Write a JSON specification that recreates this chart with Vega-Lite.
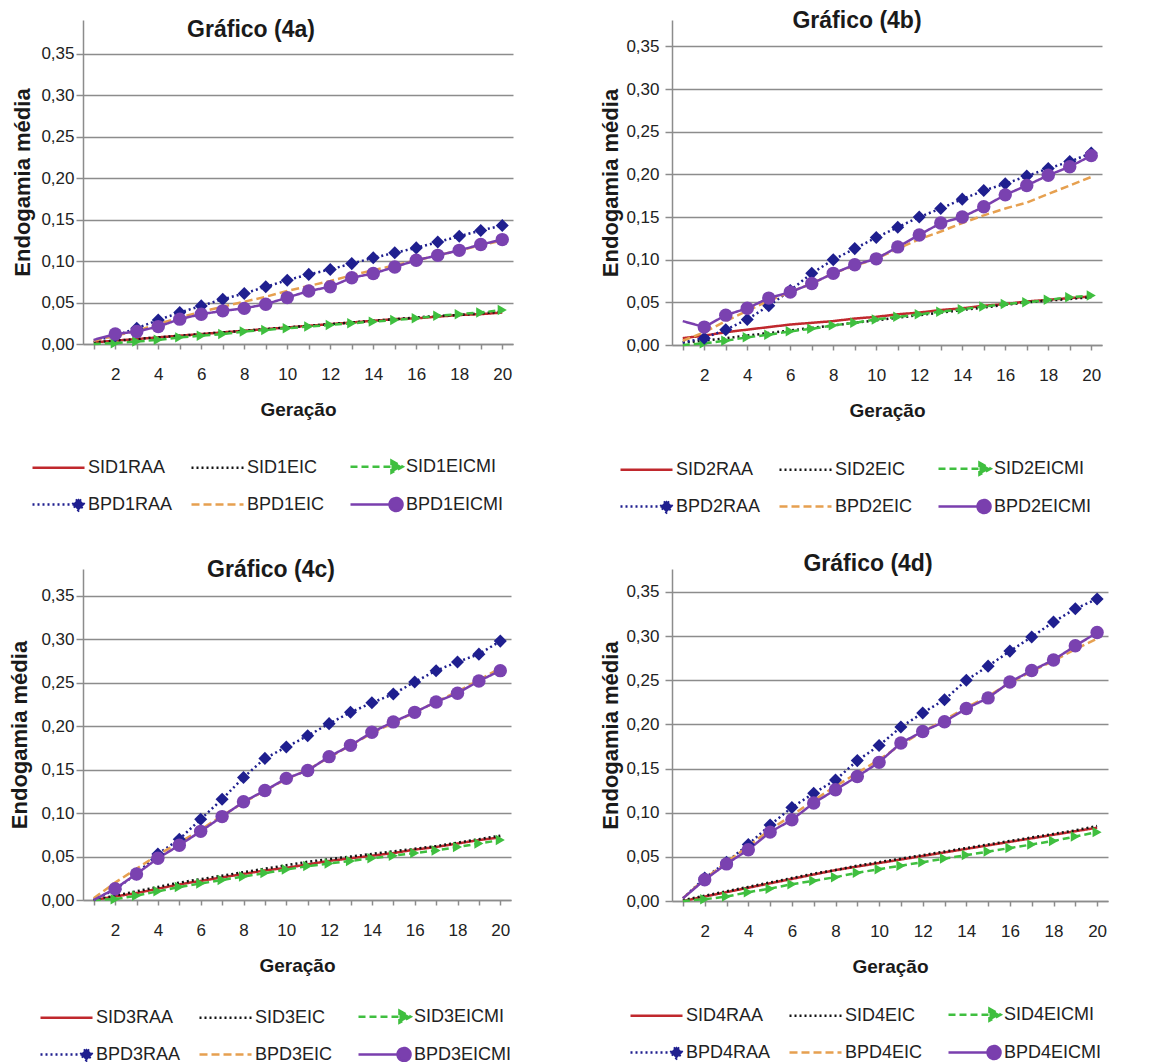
{
  "$schema": "https://vega.github.io/schema/vega-lite/v6.json",
  "background": "white",
  "padding": {"left": 8, "top": 10, "right": 5, "bottom": 2},
  "columns": 2,
  "bounds": "flush",
  "spacing": {"row": 224, "column": 159},
  "data": {"name": "inbreeding"},
  "datasets": {
    "inbreeding": [
      {"p":"4a","s":"SID1RAA","g":1,"v":0.002},{"p":"4a","s":"SID1RAA","g":2,"v":0.004},{"p":"4a","s":"SID1RAA","g":3,"v":0.006},{"p":"4a","s":"SID1RAA","g":4,"v":0.008},{"p":"4a","s":"SID1RAA","g":5,"v":0.010},{"p":"4a","s":"SID1RAA","g":6,"v":0.012},{"p":"4a","s":"SID1RAA","g":7,"v":0.014},{"p":"4a","s":"SID1RAA","g":8,"v":0.016},{"p":"4a","s":"SID1RAA","g":9,"v":0.018},{"p":"4a","s":"SID1RAA","g":10,"v":0.020},{"p":"4a","s":"SID1RAA","g":11,"v":0.022},{"p":"4a","s":"SID1RAA","g":12,"v":0.024},{"p":"4a","s":"SID1RAA","g":13,"v":0.026},{"p":"4a","s":"SID1RAA","g":14,"v":0.028},{"p":"4a","s":"SID1RAA","g":15,"v":0.030},{"p":"4a","s":"SID1RAA","g":16,"v":0.031},{"p":"4a","s":"SID1RAA","g":17,"v":0.033},{"p":"4a","s":"SID1RAA","g":18,"v":0.035},{"p":"4a","s":"SID1RAA","g":19,"v":0.036},{"p":"4a","s":"SID1RAA","g":20,"v":0.038},
      {"p":"4a","s":"SID1EIC","g":1,"v":0.002},{"p":"4a","s":"SID1EIC","g":2,"v":0.004},{"p":"4a","s":"SID1EIC","g":3,"v":0.006},{"p":"4a","s":"SID1EIC","g":4,"v":0.008},{"p":"4a","s":"SID1EIC","g":5,"v":0.010},{"p":"4a","s":"SID1EIC","g":6,"v":0.012},{"p":"4a","s":"SID1EIC","g":7,"v":0.014},{"p":"4a","s":"SID1EIC","g":8,"v":0.016},{"p":"4a","s":"SID1EIC","g":9,"v":0.018},{"p":"4a","s":"SID1EIC","g":10,"v":0.020},{"p":"4a","s":"SID1EIC","g":11,"v":0.022},{"p":"4a","s":"SID1EIC","g":12,"v":0.024},{"p":"4a","s":"SID1EIC","g":13,"v":0.026},{"p":"4a","s":"SID1EIC","g":14,"v":0.028},{"p":"4a","s":"SID1EIC","g":15,"v":0.030},{"p":"4a","s":"SID1EIC","g":16,"v":0.032},{"p":"4a","s":"SID1EIC","g":17,"v":0.034},{"p":"4a","s":"SID1EIC","g":18,"v":0.035},{"p":"4a","s":"SID1EIC","g":19,"v":0.037},{"p":"4a","s":"SID1EIC","g":20,"v":0.039},
      {"p":"4a","s":"SID1EICMI","g":1,"v":0.000},{"p":"4a","s":"SID1EICMI","g":2,"v":0.001},{"p":"4a","s":"SID1EICMI","g":3,"v":0.003},{"p":"4a","s":"SID1EICMI","g":4,"v":0.005},{"p":"4a","s":"SID1EICMI","g":5,"v":0.008},{"p":"4a","s":"SID1EICMI","g":6,"v":0.010},{"p":"4a","s":"SID1EICMI","g":7,"v":0.012},{"p":"4a","s":"SID1EICMI","g":8,"v":0.015},{"p":"4a","s":"SID1EICMI","g":9,"v":0.017},{"p":"4a","s":"SID1EICMI","g":10,"v":0.019},{"p":"4a","s":"SID1EICMI","g":11,"v":0.021},{"p":"4a","s":"SID1EICMI","g":12,"v":0.023},{"p":"4a","s":"SID1EICMI","g":13,"v":0.025},{"p":"4a","s":"SID1EICMI","g":14,"v":0.027},{"p":"4a","s":"SID1EICMI","g":15,"v":0.029},{"p":"4a","s":"SID1EICMI","g":16,"v":0.031},{"p":"4a","s":"SID1EICMI","g":17,"v":0.034},{"p":"4a","s":"SID1EICMI","g":18,"v":0.036},{"p":"4a","s":"SID1EICMI","g":19,"v":0.038},{"p":"4a","s":"SID1EICMI","g":20,"v":0.041},
      {"p":"4a","s":"BPD1RAA","g":1,"v":0.004},{"p":"4a","s":"BPD1RAA","g":2,"v":0.010},{"p":"4a","s":"BPD1RAA","g":3,"v":0.019},{"p":"4a","s":"BPD1RAA","g":4,"v":0.029},{"p":"4a","s":"BPD1RAA","g":5,"v":0.038},{"p":"4a","s":"BPD1RAA","g":6,"v":0.046},{"p":"4a","s":"BPD1RAA","g":7,"v":0.054},{"p":"4a","s":"BPD1RAA","g":8,"v":0.061},{"p":"4a","s":"BPD1RAA","g":9,"v":0.069},{"p":"4a","s":"BPD1RAA","g":10,"v":0.077},{"p":"4a","s":"BPD1RAA","g":11,"v":0.084},{"p":"4a","s":"BPD1RAA","g":12,"v":0.090},{"p":"4a","s":"BPD1RAA","g":13,"v":0.097},{"p":"4a","s":"BPD1RAA","g":14,"v":0.104},{"p":"4a","s":"BPD1RAA","g":15,"v":0.110},{"p":"4a","s":"BPD1RAA","g":16,"v":0.116},{"p":"4a","s":"BPD1RAA","g":17,"v":0.123},{"p":"4a","s":"BPD1RAA","g":18,"v":0.130},{"p":"4a","s":"BPD1RAA","g":19,"v":0.137},{"p":"4a","s":"BPD1RAA","g":20,"v":0.143},
      {"p":"4a","s":"BPD1EIC","g":1,"v":0.004},{"p":"4a","s":"BPD1EIC","g":2,"v":0.010},{"p":"4a","s":"BPD1EIC","g":3,"v":0.016},{"p":"4a","s":"BPD1EIC","g":4,"v":0.024},{"p":"4a","s":"BPD1EIC","g":5,"v":0.032},{"p":"4a","s":"BPD1EIC","g":6,"v":0.039},{"p":"4a","s":"BPD1EIC","g":7,"v":0.045},{"p":"4a","s":"BPD1EIC","g":8,"v":0.051},{"p":"4a","s":"BPD1EIC","g":9,"v":0.057},{"p":"4a","s":"BPD1EIC","g":10,"v":0.064},{"p":"4a","s":"BPD1EIC","g":11,"v":0.070},{"p":"4a","s":"BPD1EIC","g":12,"v":0.076},{"p":"4a","s":"BPD1EIC","g":13,"v":0.083},{"p":"4a","s":"BPD1EIC","g":14,"v":0.089},{"p":"4a","s":"BPD1EIC","g":15,"v":0.095},{"p":"4a","s":"BPD1EIC","g":16,"v":0.101},{"p":"4a","s":"BPD1EIC","g":17,"v":0.107},{"p":"4a","s":"BPD1EIC","g":18,"v":0.113},{"p":"4a","s":"BPD1EIC","g":19,"v":0.119},{"p":"4a","s":"BPD1EIC","g":20,"v":0.125},
      {"p":"4a","s":"BPD1EICMI","g":1,"v":0.005},{"p":"4a","s":"BPD1EICMI","g":2,"v":0.012},{"p":"4a","s":"BPD1EICMI","g":3,"v":0.015},{"p":"4a","s":"BPD1EICMI","g":4,"v":0.021},{"p":"4a","s":"BPD1EICMI","g":5,"v":0.030},{"p":"4a","s":"BPD1EICMI","g":6,"v":0.036},{"p":"4a","s":"BPD1EICMI","g":7,"v":0.040},{"p":"4a","s":"BPD1EICMI","g":8,"v":0.043},{"p":"4a","s":"BPD1EICMI","g":9,"v":0.048},{"p":"4a","s":"BPD1EICMI","g":10,"v":0.056},{"p":"4a","s":"BPD1EICMI","g":11,"v":0.064},{"p":"4a","s":"BPD1EICMI","g":12,"v":0.069},{"p":"4a","s":"BPD1EICMI","g":13,"v":0.080},{"p":"4a","s":"BPD1EICMI","g":14,"v":0.085},{"p":"4a","s":"BPD1EICMI","g":15,"v":0.093},{"p":"4a","s":"BPD1EICMI","g":16,"v":0.101},{"p":"4a","s":"BPD1EICMI","g":17,"v":0.107},{"p":"4a","s":"BPD1EICMI","g":18,"v":0.113},{"p":"4a","s":"BPD1EICMI","g":19,"v":0.120},{"p":"4a","s":"BPD1EICMI","g":20,"v":0.126},

      {"p":"4b","s":"SID2RAA","g":1,"v":0.008},{"p":"4b","s":"SID2RAA","g":2,"v":0.011},{"p":"4b","s":"SID2RAA","g":3,"v":0.015},{"p":"4b","s":"SID2RAA","g":4,"v":0.018},{"p":"4b","s":"SID2RAA","g":5,"v":0.021},{"p":"4b","s":"SID2RAA","g":6,"v":0.024},{"p":"4b","s":"SID2RAA","g":7,"v":0.026},{"p":"4b","s":"SID2RAA","g":8,"v":0.028},{"p":"4b","s":"SID2RAA","g":9,"v":0.031},{"p":"4b","s":"SID2RAA","g":10,"v":0.033},{"p":"4b","s":"SID2RAA","g":11,"v":0.036},{"p":"4b","s":"SID2RAA","g":12,"v":0.038},{"p":"4b","s":"SID2RAA","g":13,"v":0.041},{"p":"4b","s":"SID2RAA","g":14,"v":0.043},{"p":"4b","s":"SID2RAA","g":15,"v":0.046},{"p":"4b","s":"SID2RAA","g":16,"v":0.048},{"p":"4b","s":"SID2RAA","g":17,"v":0.051},{"p":"4b","s":"SID2RAA","g":18,"v":0.053},{"p":"4b","s":"SID2RAA","g":19,"v":0.055},{"p":"4b","s":"SID2RAA","g":20,"v":0.057},
      {"p":"4b","s":"SID2EIC","g":1,"v":0.003},{"p":"4b","s":"SID2EIC","g":2,"v":0.005},{"p":"4b","s":"SID2EIC","g":3,"v":0.008},{"p":"4b","s":"SID2EIC","g":4,"v":0.011},{"p":"4b","s":"SID2EIC","g":5,"v":0.014},{"p":"4b","s":"SID2EIC","g":6,"v":0.017},{"p":"4b","s":"SID2EIC","g":7,"v":0.020},{"p":"4b","s":"SID2EIC","g":8,"v":0.023},{"p":"4b","s":"SID2EIC","g":9,"v":0.026},{"p":"4b","s":"SID2EIC","g":10,"v":0.029},{"p":"4b","s":"SID2EIC","g":11,"v":0.032},{"p":"4b","s":"SID2EIC","g":12,"v":0.035},{"p":"4b","s":"SID2EIC","g":13,"v":0.038},{"p":"4b","s":"SID2EIC","g":14,"v":0.041},{"p":"4b","s":"SID2EIC","g":15,"v":0.044},{"p":"4b","s":"SID2EIC","g":16,"v":0.047},{"p":"4b","s":"SID2EIC","g":17,"v":0.050},{"p":"4b","s":"SID2EIC","g":18,"v":0.052},{"p":"4b","s":"SID2EIC","g":19,"v":0.054},{"p":"4b","s":"SID2EIC","g":20,"v":0.056},
      {"p":"4b","s":"SID2EICMI","g":1,"v":0.000},{"p":"4b","s":"SID2EICMI","g":2,"v":0.002},{"p":"4b","s":"SID2EICMI","g":3,"v":0.005},{"p":"4b","s":"SID2EICMI","g":4,"v":0.009},{"p":"4b","s":"SID2EICMI","g":5,"v":0.012},{"p":"4b","s":"SID2EICMI","g":6,"v":0.016},{"p":"4b","s":"SID2EICMI","g":7,"v":0.019},{"p":"4b","s":"SID2EICMI","g":8,"v":0.023},{"p":"4b","s":"SID2EICMI","g":9,"v":0.026},{"p":"4b","s":"SID2EICMI","g":10,"v":0.030},{"p":"4b","s":"SID2EICMI","g":11,"v":0.033},{"p":"4b","s":"SID2EICMI","g":12,"v":0.036},{"p":"4b","s":"SID2EICMI","g":13,"v":0.039},{"p":"4b","s":"SID2EICMI","g":14,"v":0.042},{"p":"4b","s":"SID2EICMI","g":15,"v":0.045},{"p":"4b","s":"SID2EICMI","g":16,"v":0.048},{"p":"4b","s":"SID2EICMI","g":17,"v":0.050},{"p":"4b","s":"SID2EICMI","g":18,"v":0.053},{"p":"4b","s":"SID2EICMI","g":19,"v":0.056},{"p":"4b","s":"SID2EICMI","g":20,"v":0.058},
      {"p":"4b","s":"BPD2RAA","g":1,"v":0.003},{"p":"4b","s":"BPD2RAA","g":2,"v":0.008},{"p":"4b","s":"BPD2RAA","g":3,"v":0.018},{"p":"4b","s":"BPD2RAA","g":4,"v":0.030},{"p":"4b","s":"BPD2RAA","g":5,"v":0.046},{"p":"4b","s":"BPD2RAA","g":6,"v":0.064},{"p":"4b","s":"BPD2RAA","g":7,"v":0.084},{"p":"4b","s":"BPD2RAA","g":8,"v":0.100},{"p":"4b","s":"BPD2RAA","g":9,"v":0.113},{"p":"4b","s":"BPD2RAA","g":10,"v":0.126},{"p":"4b","s":"BPD2RAA","g":11,"v":0.138},{"p":"4b","s":"BPD2RAA","g":12,"v":0.150},{"p":"4b","s":"BPD2RAA","g":13,"v":0.160},{"p":"4b","s":"BPD2RAA","g":14,"v":0.171},{"p":"4b","s":"BPD2RAA","g":15,"v":0.181},{"p":"4b","s":"BPD2RAA","g":16,"v":0.189},{"p":"4b","s":"BPD2RAA","g":17,"v":0.198},{"p":"4b","s":"BPD2RAA","g":18,"v":0.207},{"p":"4b","s":"BPD2RAA","g":19,"v":0.215},{"p":"4b","s":"BPD2RAA","g":20,"v":0.225},
      {"p":"4b","s":"BPD2EIC","g":1,"v":0.005},{"p":"4b","s":"BPD2EIC","g":2,"v":0.015},{"p":"4b","s":"BPD2EIC","g":3,"v":0.028},{"p":"4b","s":"BPD2EIC","g":4,"v":0.040},{"p":"4b","s":"BPD2EIC","g":5,"v":0.052},{"p":"4b","s":"BPD2EIC","g":6,"v":0.062},{"p":"4b","s":"BPD2EIC","g":7,"v":0.072},{"p":"4b","s":"BPD2EIC","g":8,"v":0.084},{"p":"4b","s":"BPD2EIC","g":9,"v":0.093},{"p":"4b","s":"BPD2EIC","g":10,"v":0.101},{"p":"4b","s":"BPD2EIC","g":11,"v":0.113},{"p":"4b","s":"BPD2EIC","g":12,"v":0.124},{"p":"4b","s":"BPD2EIC","g":13,"v":0.133},{"p":"4b","s":"BPD2EIC","g":14,"v":0.143},{"p":"4b","s":"BPD2EIC","g":15,"v":0.152},{"p":"4b","s":"BPD2EIC","g":16,"v":0.160},{"p":"4b","s":"BPD2EIC","g":17,"v":0.167},{"p":"4b","s":"BPD2EIC","g":18,"v":0.177},{"p":"4b","s":"BPD2EIC","g":19,"v":0.187},{"p":"4b","s":"BPD2EIC","g":20,"v":0.197},
      {"p":"4b","s":"BPD2EICMI","g":1,"v":0.028},{"p":"4b","s":"BPD2EICMI","g":2,"v":0.021},{"p":"4b","s":"BPD2EICMI","g":3,"v":0.035},{"p":"4b","s":"BPD2EICMI","g":4,"v":0.043},{"p":"4b","s":"BPD2EICMI","g":5,"v":0.055},{"p":"4b","s":"BPD2EICMI","g":6,"v":0.062},{"p":"4b","s":"BPD2EICMI","g":7,"v":0.072},{"p":"4b","s":"BPD2EICMI","g":8,"v":0.084},{"p":"4b","s":"BPD2EICMI","g":9,"v":0.094},{"p":"4b","s":"BPD2EICMI","g":10,"v":0.101},{"p":"4b","s":"BPD2EICMI","g":11,"v":0.115},{"p":"4b","s":"BPD2EICMI","g":12,"v":0.129},{"p":"4b","s":"BPD2EICMI","g":13,"v":0.143},{"p":"4b","s":"BPD2EICMI","g":14,"v":0.150},{"p":"4b","s":"BPD2EICMI","g":15,"v":0.162},{"p":"4b","s":"BPD2EICMI","g":16,"v":0.176},{"p":"4b","s":"BPD2EICMI","g":17,"v":0.187},{"p":"4b","s":"BPD2EICMI","g":18,"v":0.199},{"p":"4b","s":"BPD2EICMI","g":19,"v":0.209},{"p":"4b","s":"BPD2EICMI","g":20,"v":0.222},

      {"p":"4c","s":"SID3RAA","g":1,"v":0.000},{"p":"4c","s":"SID3RAA","g":2,"v":0.004},{"p":"4c","s":"SID3RAA","g":3,"v":0.008},{"p":"4c","s":"SID3RAA","g":4,"v":0.013},{"p":"4c","s":"SID3RAA","g":5,"v":0.018},{"p":"4c","s":"SID3RAA","g":6,"v":0.022},{"p":"4c","s":"SID3RAA","g":7,"v":0.026},{"p":"4c","s":"SID3RAA","g":8,"v":0.030},{"p":"4c","s":"SID3RAA","g":9,"v":0.034},{"p":"4c","s":"SID3RAA","g":10,"v":0.037},{"p":"4c","s":"SID3RAA","g":11,"v":0.041},{"p":"4c","s":"SID3RAA","g":12,"v":0.045},{"p":"4c","s":"SID3RAA","g":13,"v":0.048},{"p":"4c","s":"SID3RAA","g":14,"v":0.051},{"p":"4c","s":"SID3RAA","g":15,"v":0.054},{"p":"4c","s":"SID3RAA","g":16,"v":0.058},{"p":"4c","s":"SID3RAA","g":17,"v":0.061},{"p":"4c","s":"SID3RAA","g":18,"v":0.065},{"p":"4c","s":"SID3RAA","g":19,"v":0.069},{"p":"4c","s":"SID3RAA","g":20,"v":0.072},
      {"p":"4c","s":"SID3EIC","g":1,"v":0.000},{"p":"4c","s":"SID3EIC","g":2,"v":0.005},{"p":"4c","s":"SID3EIC","g":3,"v":0.010},{"p":"4c","s":"SID3EIC","g":4,"v":0.015},{"p":"4c","s":"SID3EIC","g":5,"v":0.020},{"p":"4c","s":"SID3EIC","g":6,"v":0.024},{"p":"4c","s":"SID3EIC","g":7,"v":0.028},{"p":"4c","s":"SID3EIC","g":8,"v":0.032},{"p":"4c","s":"SID3EIC","g":9,"v":0.036},{"p":"4c","s":"SID3EIC","g":10,"v":0.040},{"p":"4c","s":"SID3EIC","g":11,"v":0.044},{"p":"4c","s":"SID3EIC","g":12,"v":0.047},{"p":"4c","s":"SID3EIC","g":13,"v":0.050},{"p":"4c","s":"SID3EIC","g":14,"v":0.053},{"p":"4c","s":"SID3EIC","g":15,"v":0.056},{"p":"4c","s":"SID3EIC","g":16,"v":0.059},{"p":"4c","s":"SID3EIC","g":17,"v":0.062},{"p":"4c","s":"SID3EIC","g":18,"v":0.066},{"p":"4c","s":"SID3EIC","g":19,"v":0.070},{"p":"4c","s":"SID3EIC","g":20,"v":0.074},
      {"p":"4c","s":"SID3EICMI","g":1,"v":0.000},{"p":"4c","s":"SID3EICMI","g":2,"v":0.001},{"p":"4c","s":"SID3EICMI","g":3,"v":0.005},{"p":"4c","s":"SID3EICMI","g":4,"v":0.010},{"p":"4c","s":"SID3EICMI","g":5,"v":0.015},{"p":"4c","s":"SID3EICMI","g":6,"v":0.019},{"p":"4c","s":"SID3EICMI","g":7,"v":0.023},{"p":"4c","s":"SID3EICMI","g":8,"v":0.027},{"p":"4c","s":"SID3EICMI","g":9,"v":0.031},{"p":"4c","s":"SID3EICMI","g":10,"v":0.035},{"p":"4c","s":"SID3EICMI","g":11,"v":0.039},{"p":"4c","s":"SID3EICMI","g":12,"v":0.042},{"p":"4c","s":"SID3EICMI","g":13,"v":0.045},{"p":"4c","s":"SID3EICMI","g":14,"v":0.048},{"p":"4c","s":"SID3EICMI","g":15,"v":0.051},{"p":"4c","s":"SID3EICMI","g":16,"v":0.054},{"p":"4c","s":"SID3EICMI","g":17,"v":0.057},{"p":"4c","s":"SID3EICMI","g":18,"v":0.061},{"p":"4c","s":"SID3EICMI","g":19,"v":0.065},{"p":"4c","s":"SID3EICMI","g":20,"v":0.069},
      {"p":"4c","s":"BPD3RAA","g":1,"v":0.000},{"p":"4c","s":"BPD3RAA","g":2,"v":0.012},{"p":"4c","s":"BPD3RAA","g":3,"v":0.030},{"p":"4c","s":"BPD3RAA","g":4,"v":0.053},{"p":"4c","s":"BPD3RAA","g":5,"v":0.070},{"p":"4c","s":"BPD3RAA","g":6,"v":0.093},{"p":"4c","s":"BPD3RAA","g":7,"v":0.116},{"p":"4c","s":"BPD3RAA","g":8,"v":0.141},{"p":"4c","s":"BPD3RAA","g":9,"v":0.163},{"p":"4c","s":"BPD3RAA","g":10,"v":0.176},{"p":"4c","s":"BPD3RAA","g":11,"v":0.189},{"p":"4c","s":"BPD3RAA","g":12,"v":0.203},{"p":"4c","s":"BPD3RAA","g":13,"v":0.216},{"p":"4c","s":"BPD3RAA","g":14,"v":0.227},{"p":"4c","s":"BPD3RAA","g":15,"v":0.237},{"p":"4c","s":"BPD3RAA","g":16,"v":0.251},{"p":"4c","s":"BPD3RAA","g":17,"v":0.264},{"p":"4c","s":"BPD3RAA","g":18,"v":0.274},{"p":"4c","s":"BPD3RAA","g":19,"v":0.283},{"p":"4c","s":"BPD3RAA","g":20,"v":0.298},
      {"p":"4c","s":"BPD3EIC","g":1,"v":0.002},{"p":"4c","s":"BPD3EIC","g":2,"v":0.020},{"p":"4c","s":"BPD3EIC","g":3,"v":0.036},{"p":"4c","s":"BPD3EIC","g":4,"v":0.052},{"p":"4c","s":"BPD3EIC","g":5,"v":0.066},{"p":"4c","s":"BPD3EIC","g":6,"v":0.081},{"p":"4c","s":"BPD3EIC","g":7,"v":0.097},{"p":"4c","s":"BPD3EIC","g":8,"v":0.112},{"p":"4c","s":"BPD3EIC","g":9,"v":0.126},{"p":"4c","s":"BPD3EIC","g":10,"v":0.139},{"p":"4c","s":"BPD3EIC","g":11,"v":0.150},{"p":"4c","s":"BPD3EIC","g":12,"v":0.164},{"p":"4c","s":"BPD3EIC","g":13,"v":0.178},{"p":"4c","s":"BPD3EIC","g":14,"v":0.192},{"p":"4c","s":"BPD3EIC","g":15,"v":0.204},{"p":"4c","s":"BPD3EIC","g":16,"v":0.216},{"p":"4c","s":"BPD3EIC","g":17,"v":0.228},{"p":"4c","s":"BPD3EIC","g":18,"v":0.240},{"p":"4c","s":"BPD3EIC","g":19,"v":0.253},{"p":"4c","s":"BPD3EIC","g":20,"v":0.267},
      {"p":"4c","s":"BPD3EICMI","g":1,"v":0.000},{"p":"4c","s":"BPD3EICMI","g":2,"v":0.013},{"p":"4c","s":"BPD3EICMI","g":3,"v":0.030},{"p":"4c","s":"BPD3EICMI","g":4,"v":0.048},{"p":"4c","s":"BPD3EICMI","g":5,"v":0.063},{"p":"4c","s":"BPD3EICMI","g":6,"v":0.079},{"p":"4c","s":"BPD3EICMI","g":7,"v":0.096},{"p":"4c","s":"BPD3EICMI","g":8,"v":0.113},{"p":"4c","s":"BPD3EICMI","g":9,"v":0.126},{"p":"4c","s":"BPD3EICMI","g":10,"v":0.140},{"p":"4c","s":"BPD3EICMI","g":11,"v":0.149},{"p":"4c","s":"BPD3EICMI","g":12,"v":0.165},{"p":"4c","s":"BPD3EICMI","g":13,"v":0.178},{"p":"4c","s":"BPD3EICMI","g":14,"v":0.193},{"p":"4c","s":"BPD3EICMI","g":15,"v":0.205},{"p":"4c","s":"BPD3EICMI","g":16,"v":0.216},{"p":"4c","s":"BPD3EICMI","g":17,"v":0.228},{"p":"4c","s":"BPD3EICMI","g":18,"v":0.238},{"p":"4c","s":"BPD3EICMI","g":19,"v":0.252},{"p":"4c","s":"BPD3EICMI","g":20,"v":0.264},

      {"p":"4d","s":"SID4RAA","g":1,"v":0.000},{"p":"4d","s":"SID4RAA","g":2,"v":0.005},{"p":"4d","s":"SID4RAA","g":3,"v":0.010},{"p":"4d","s":"SID4RAA","g":4,"v":0.015},{"p":"4d","s":"SID4RAA","g":5,"v":0.020},{"p":"4d","s":"SID4RAA","g":6,"v":0.025},{"p":"4d","s":"SID4RAA","g":7,"v":0.030},{"p":"4d","s":"SID4RAA","g":8,"v":0.035},{"p":"4d","s":"SID4RAA","g":9,"v":0.039},{"p":"4d","s":"SID4RAA","g":10,"v":0.043},{"p":"4d","s":"SID4RAA","g":11,"v":0.047},{"p":"4d","s":"SID4RAA","g":12,"v":0.051},{"p":"4d","s":"SID4RAA","g":13,"v":0.055},{"p":"4d","s":"SID4RAA","g":14,"v":0.059},{"p":"4d","s":"SID4RAA","g":15,"v":0.063},{"p":"4d","s":"SID4RAA","g":16,"v":0.067},{"p":"4d","s":"SID4RAA","g":17,"v":0.071},{"p":"4d","s":"SID4RAA","g":18,"v":0.075},{"p":"4d","s":"SID4RAA","g":19,"v":0.079},{"p":"4d","s":"SID4RAA","g":20,"v":0.083},
      {"p":"4d","s":"SID4EIC","g":1,"v":0.001},{"p":"4d","s":"SID4EIC","g":2,"v":0.006},{"p":"4d","s":"SID4EIC","g":3,"v":0.011},{"p":"4d","s":"SID4EIC","g":4,"v":0.016},{"p":"4d","s":"SID4EIC","g":5,"v":0.021},{"p":"4d","s":"SID4EIC","g":6,"v":0.026},{"p":"4d","s":"SID4EIC","g":7,"v":0.031},{"p":"4d","s":"SID4EIC","g":8,"v":0.035},{"p":"4d","s":"SID4EIC","g":9,"v":0.040},{"p":"4d","s":"SID4EIC","g":10,"v":0.044},{"p":"4d","s":"SID4EIC","g":11,"v":0.048},{"p":"4d","s":"SID4EIC","g":12,"v":0.052},{"p":"4d","s":"SID4EIC","g":13,"v":0.056},{"p":"4d","s":"SID4EIC","g":14,"v":0.060},{"p":"4d","s":"SID4EIC","g":15,"v":0.064},{"p":"4d","s":"SID4EIC","g":16,"v":0.068},{"p":"4d","s":"SID4EIC","g":17,"v":0.072},{"p":"4d","s":"SID4EIC","g":18,"v":0.076},{"p":"4d","s":"SID4EIC","g":19,"v":0.080},{"p":"4d","s":"SID4EIC","g":20,"v":0.085},
      {"p":"4d","s":"SID4EICMI","g":1,"v":0.000},{"p":"4d","s":"SID4EICMI","g":2,"v":0.002},{"p":"4d","s":"SID4EICMI","g":3,"v":0.005},{"p":"4d","s":"SID4EICMI","g":4,"v":0.010},{"p":"4d","s":"SID4EICMI","g":5,"v":0.014},{"p":"4d","s":"SID4EICMI","g":6,"v":0.019},{"p":"4d","s":"SID4EICMI","g":7,"v":0.023},{"p":"4d","s":"SID4EICMI","g":8,"v":0.027},{"p":"4d","s":"SID4EICMI","g":9,"v":0.032},{"p":"4d","s":"SID4EICMI","g":10,"v":0.036},{"p":"4d","s":"SID4EICMI","g":11,"v":0.040},{"p":"4d","s":"SID4EICMI","g":12,"v":0.044},{"p":"4d","s":"SID4EICMI","g":13,"v":0.048},{"p":"4d","s":"SID4EICMI","g":14,"v":0.052},{"p":"4d","s":"SID4EICMI","g":15,"v":0.056},{"p":"4d","s":"SID4EICMI","g":16,"v":0.060},{"p":"4d","s":"SID4EICMI","g":17,"v":0.064},{"p":"4d","s":"SID4EICMI","g":18,"v":0.068},{"p":"4d","s":"SID4EICMI","g":19,"v":0.073},{"p":"4d","s":"SID4EICMI","g":20,"v":0.078},
      {"p":"4d","s":"BPD4RAA","g":1,"v":0.003},{"p":"4d","s":"BPD4RAA","g":2,"v":0.026},{"p":"4d","s":"BPD4RAA","g":3,"v":0.044},{"p":"4d","s":"BPD4RAA","g":4,"v":0.064},{"p":"4d","s":"BPD4RAA","g":5,"v":0.086},{"p":"4d","s":"BPD4RAA","g":6,"v":0.106},{"p":"4d","s":"BPD4RAA","g":7,"v":0.122},{"p":"4d","s":"BPD4RAA","g":8,"v":0.137},{"p":"4d","s":"BPD4RAA","g":9,"v":0.159},{"p":"4d","s":"BPD4RAA","g":10,"v":0.176},{"p":"4d","s":"BPD4RAA","g":11,"v":0.197},{"p":"4d","s":"BPD4RAA","g":12,"v":0.213},{"p":"4d","s":"BPD4RAA","g":13,"v":0.228},{"p":"4d","s":"BPD4RAA","g":14,"v":0.250},{"p":"4d","s":"BPD4RAA","g":15,"v":0.266},{"p":"4d","s":"BPD4RAA","g":16,"v":0.283},{"p":"4d","s":"BPD4RAA","g":17,"v":0.299},{"p":"4d","s":"BPD4RAA","g":18,"v":0.316},{"p":"4d","s":"BPD4RAA","g":19,"v":0.331},{"p":"4d","s":"BPD4RAA","g":20,"v":0.342},
      {"p":"4d","s":"BPD4EIC","g":1,"v":0.003},{"p":"4d","s":"BPD4EIC","g":2,"v":0.025},{"p":"4d","s":"BPD4EIC","g":3,"v":0.044},{"p":"4d","s":"BPD4EIC","g":4,"v":0.062},{"p":"4d","s":"BPD4EIC","g":5,"v":0.081},{"p":"4d","s":"BPD4EIC","g":6,"v":0.097},{"p":"4d","s":"BPD4EIC","g":7,"v":0.114},{"p":"4d","s":"BPD4EIC","g":8,"v":0.130},{"p":"4d","s":"BPD4EIC","g":9,"v":0.145},{"p":"4d","s":"BPD4EIC","g":10,"v":0.160},{"p":"4d","s":"BPD4EIC","g":11,"v":0.177},{"p":"4d","s":"BPD4EIC","g":12,"v":0.192},{"p":"4d","s":"BPD4EIC","g":13,"v":0.205},{"p":"4d","s":"BPD4EIC","g":14,"v":0.219},{"p":"4d","s":"BPD4EIC","g":15,"v":0.232},{"p":"4d","s":"BPD4EIC","g":16,"v":0.247},{"p":"4d","s":"BPD4EIC","g":17,"v":0.260},{"p":"4d","s":"BPD4EIC","g":18,"v":0.272},{"p":"4d","s":"BPD4EIC","g":19,"v":0.285},{"p":"4d","s":"BPD4EIC","g":20,"v":0.297},
      {"p":"4d","s":"BPD4EICMI","g":1,"v":0.003},{"p":"4d","s":"BPD4EICMI","g":2,"v":0.024},{"p":"4d","s":"BPD4EICMI","g":3,"v":0.042},{"p":"4d","s":"BPD4EICMI","g":4,"v":0.058},{"p":"4d","s":"BPD4EICMI","g":5,"v":0.078},{"p":"4d","s":"BPD4EICMI","g":6,"v":0.092},{"p":"4d","s":"BPD4EICMI","g":7,"v":0.111},{"p":"4d","s":"BPD4EICMI","g":8,"v":0.126},{"p":"4d","s":"BPD4EICMI","g":9,"v":0.141},{"p":"4d","s":"BPD4EICMI","g":10,"v":0.157},{"p":"4d","s":"BPD4EICMI","g":11,"v":0.179},{"p":"4d","s":"BPD4EICMI","g":12,"v":0.192},{"p":"4d","s":"BPD4EICMI","g":13,"v":0.203},{"p":"4d","s":"BPD4EICMI","g":14,"v":0.218},{"p":"4d","s":"BPD4EICMI","g":15,"v":0.230},{"p":"4d","s":"BPD4EICMI","g":16,"v":0.248},{"p":"4d","s":"BPD4EICMI","g":17,"v":0.261},{"p":"4d","s":"BPD4EICMI","g":18,"v":0.273},{"p":"4d","s":"BPD4EICMI","g":19,"v":0.289},{"p":"4d","s":"BPD4EICMI","g":20,"v":0.304}
    ]
  },
  "config": {
    "font": "Liberation Sans",
    "view": {"stroke": null},
    "title": {"font": "Liberation Sans", "fontSize": 23, "fontWeight": "bold", "color": "#1a1a1a", "anchor": "middle", "frame": "group", "offset": 0, "baseline": "alphabetic"},
    "axis": {"labelFont": "Liberation Sans", "labelFontSize": 17, "labelColor": "#222222", "titleFont": "Liberation Sans", "titleFontWeight": "bold", "titleColor": "#1a1a1a", "domainColor": "#8c8c8c", "domainWidth": 1.5, "tickColor": "#8c8c8c", "tickWidth": 1.5, "gridColor": "#8c8c8c", "gridWidth": 1.5},
    "axisX": {"grid": false, "tickSize": 5, "labelPadding": 17, "titlePadding": 18, "titleFontSize": 19, "labelOverlap": false, "labelFlush": false, "labelExpr": "datum.value % 2 == 0 ? '' + datum.value : ''"},
    "axisY": {"grid": true, "tickSize": 7, "labelPadding": 2, "titleFontSize": 22, "labelExpr": "replace(format(datum.value, '.2f'), '.', ',')"},
    "legend": {"orient": "none", "direction": "horizontal", "columns": 3, "gridAlign": "all", "columnPadding": 0, "rowPadding": 15, "labelFont": "Liberation Sans", "labelFontSize": 18, "labelColor": "#222222", "labelOffset": 36, "labelLimit": 300, "symbolSize": 324, "symbolStrokeWidth": 2.5, "symbolOpacity": 1}
  },
  "concat": [
    {
      "width": 430, "height": 324,
      "title": {"text": "Gráfico (4a)", "dx": -47, "dy": 26},
      "transform": [{"filter": "datum.p == '4a'"}],
      "encoding": {
        "x": {"field": "g", "type": "quantitative", "title": "Geração", "scale": {"domain": [0.5, 20.5], "nice": false, "zero": false}, "axis": {"values": [1,2,3,4,5,6,7,8,9,10,11,12,13,14,15,16,17,18,19,20]}},
        "y": {"field": "v", "type": "quantitative", "title": "Endogamia média", "scale": {"domain": [0, 0.391], "nice": false}, "axis": {"values": [0,0.05,0.1,0.15,0.2,0.25,0.3,0.35], "titlePadding": 6}}
      },
      "layer": [
        {"mark": {"type": "line", "strokeWidth": 2.5},
         "encoding": {
           "stroke": {"field": "s", "type": "nominal", "scale": {"domain": ["SID1RAA","SID1EIC","SID1EICMI","BPD1RAA","BPD1EIC","BPD1EICMI"], "range": ["#c0282d","#141414","#3fbf3f","#1f1f8f","#e6a050","#7a3fae"]}, "legend": null},
           "strokeDash": {"field": "s", "type": "nominal", "scale": {"domain": ["SID1RAA","SID1EIC","SID1EICMI","BPD1RAA","BPD1EIC","BPD1EICMI"], "range": [[1,0],[2,3],[7,4],[2,3],[8,4],[1,0]]}, "legend": null}
         }},
        {"transform": [{"filter": "datum.s == 'SID1EICMI' && datum.g > 1"}], "mark": {"type": "point", "shape": "triangle-right", "filled": true, "color": "#3fbf3f", "size": 110, "opacity": 1}},
        {"transform": [{"filter": "datum.s == 'BPD1RAA' && datum.g > 1"}], "mark": {"type": "point", "shape": "diamond", "filled": true, "color": "#1f1f8f", "size": 170, "opacity": 1}},
        {"transform": [{"filter": "datum.s == 'BPD1EICMI' && datum.g > 1"}], "mark": {"type": "point", "shape": "circle", "filled": true, "color": "#7a42b0", "size": 180, "opacity": 1}},
        {"transform": [{"filter": "false"}],
         "mark": {"type": "point", "filled": true, "opacity": 1, "size": 324, "strokeWidth": 2.5},
         "encoding": {
           "stroke": {"field": "s", "type": "nominal", "title": null, "scale": {"domain": ["SID1RAA","SID1EIC","SID1EICMI","BPD1RAA","BPD1EIC","BPD1EICMI"], "range": ["#c0282d","#141414","#3fbf3f","#1f1f8f","#e6a050","#7a3fae"]}, "legend": {"legendX": -52, "legendY": 436}},
           "fill": {"field": "s", "type": "nominal", "title": null, "scale": {"domain": ["SID1RAA","SID1EIC","SID1EICMI","BPD1RAA","BPD1EIC","BPD1EICMI"], "range": ["#c0282d","#141414","#3fbf3f","#1f1f8f","#e6a050","#7a3fae"]}},
           "shape": {"field": "s", "type": "nominal", "title": null, "scale": {"domain": ["SID1RAA","SID1EIC","SID1EICMI","BPD1RAA","BPD1EIC","BPD1EICMI"], "range": ["M-1,0L4.78,0","M-1,0L4.78,0","M-1,0L3.6,0M3.55,-0.67L4.78,0L3.55,0.67Z","M-1,0L3.6,0M3.44,0L4.11,-0.67L4.78,0L4.11,0.67Z","M-1,0L4.78,0","M-1,0L3.4,0M3.34,0A0.72,0.72 0 1,1 4.78,0A0.72,0.72 0 1,1 3.34,0Z"]}},
           "strokeDash": {"field": "s", "type": "nominal", "title": null, "scale": {"domain": ["SID1RAA","SID1EIC","SID1EICMI","BPD1RAA","BPD1EIC","BPD1EICMI"], "range": [[1,0],[2,3],[7,4],[2,3],[8,4],[1,0]]}}
         }}
      ],
      "resolve": {"scale": {"stroke": "independent", "strokeDash": "independent", "fill": "independent", "shape": "independent"}}
    },
    {
      "width": 430, "height": 325,
      "title": {"text": "Gráfico (4b)", "dx": -30, "dy": 17},
      "transform": [{"filter": "datum.p == '4b'"}],
      "encoding": {
        "x": {"field": "g", "type": "quantitative", "title": "Geração", "scale": {"domain": [0.5, 20.5], "nice": false, "zero": false}, "axis": {"values": [1,2,3,4,5,6,7,8,9,10,11,12,13,14,15,16,17,18,19,20]}},
        "y": {"field": "v", "type": "quantitative", "title": "Endogamia média", "scale": {"domain": [0, 0.381], "nice": false}, "axis": {"values": [0,0.05,0.1,0.15,0.2,0.25,0.3,0.35], "titlePadding": 3, "labelPadding": 6}}
      },
      "layer": [
        {"mark": {"type": "line", "strokeWidth": 2.5},
         "encoding": {
           "stroke": {"field": "s", "type": "nominal", "scale": {"domain": ["SID2RAA","SID2EIC","SID2EICMI","BPD2RAA","BPD2EIC","BPD2EICMI"], "range": ["#c0282d","#141414","#3fbf3f","#1f1f8f","#e6a050","#7a3fae"]}, "legend": null},
           "strokeDash": {"field": "s", "type": "nominal", "scale": {"domain": ["SID2RAA","SID2EIC","SID2EICMI","BPD2RAA","BPD2EIC","BPD2EICMI"], "range": [[1,0],[2,3],[7,4],[2,3],[8,4],[1,0]]}, "legend": null}
         }},
        {"transform": [{"filter": "datum.s == 'SID2EICMI' && datum.g > 1"}], "mark": {"type": "point", "shape": "triangle-right", "filled": true, "color": "#3fbf3f", "size": 110, "opacity": 1}},
        {"transform": [{"filter": "datum.s == 'BPD2RAA' && datum.g > 1"}], "mark": {"type": "point", "shape": "diamond", "filled": true, "color": "#1f1f8f", "size": 170, "opacity": 1}},
        {"transform": [{"filter": "datum.s == 'BPD2EICMI' && datum.g > 1"}], "mark": {"type": "point", "shape": "circle", "filled": true, "color": "#7a42b0", "size": 180, "opacity": 1}},
        {"transform": [{"filter": "false"}],
         "mark": {"type": "point", "filled": true, "opacity": 1, "size": 324, "strokeWidth": 2.5},
         "encoding": {
           "stroke": {"field": "s", "type": "nominal", "title": null, "scale": {"domain": ["SID2RAA","SID2EIC","SID2EICMI","BPD2RAA","BPD2EIC","BPD2EICMI"], "range": ["#c0282d","#141414","#3fbf3f","#1f1f8f","#e6a050","#7a3fae"]}, "legend": {"legendX": -53, "legendY": 438}},
           "fill": {"field": "s", "type": "nominal", "title": null, "scale": {"domain": ["SID2RAA","SID2EIC","SID2EICMI","BPD2RAA","BPD2EIC","BPD2EICMI"], "range": ["#c0282d","#141414","#3fbf3f","#1f1f8f","#e6a050","#7a3fae"]}},
           "shape": {"field": "s", "type": "nominal", "title": null, "scale": {"domain": ["SID2RAA","SID2EIC","SID2EICMI","BPD2RAA","BPD2EIC","BPD2EICMI"], "range": ["M-1,0L4.78,0","M-1,0L4.78,0","M-1,0L3.6,0M3.55,-0.67L4.78,0L3.55,0.67Z","M-1,0L3.6,0M3.44,0L4.11,-0.67L4.78,0L4.11,0.67Z","M-1,0L4.78,0","M-1,0L3.4,0M3.34,0A0.72,0.72 0 1,1 4.78,0A0.72,0.72 0 1,1 3.34,0Z"]}},
           "strokeDash": {"field": "s", "type": "nominal", "title": null, "scale": {"domain": ["SID2RAA","SID2EIC","SID2EICMI","BPD2RAA","BPD2EIC","BPD2EICMI"], "range": [[1,0],[2,3],[7,4],[2,3],[8,4],[1,0]]}}
         }}
      ],
      "resolve": {"scale": {"stroke": "independent", "strokeDash": "independent", "fill": "independent", "shape": "independent"}}
    },
    {
      "width": 428, "height": 331,
      "title": {"text": "Gráfico (4c)", "dx": -26, "dy": 17},
      "transform": [{"filter": "datum.p == '4c'"}],
      "encoding": {
        "x": {"field": "g", "type": "quantitative", "title": "Geração", "scale": {"domain": [0.5, 20.5], "nice": false, "zero": false}, "axis": {"values": [1,2,3,4,5,6,7,8,9,10,11,12,13,14,15,16,17,18,19,20]}},
        "y": {"field": "v", "type": "quantitative", "title": "Endogamia média", "scale": {"domain": [0, 0.381], "nice": false}, "axis": {"values": [0,0.05,0.1,0.15,0.2,0.25,0.3,0.35], "titlePadding": 9}}
      },
      "layer": [
        {"mark": {"type": "line", "strokeWidth": 2.5},
         "encoding": {
           "stroke": {"field": "s", "type": "nominal", "scale": {"domain": ["SID3RAA","SID3EIC","SID3EICMI","BPD3RAA","BPD3EIC","BPD3EICMI"], "range": ["#c0282d","#141414","#3fbf3f","#1f1f8f","#e6a050","#7a3fae"]}, "legend": null},
           "strokeDash": {"field": "s", "type": "nominal", "scale": {"domain": ["SID3RAA","SID3EIC","SID3EICMI","BPD3RAA","BPD3EIC","BPD3EICMI"], "range": [[1,0],[2,3],[7,4],[2,3],[8,4],[1,0]]}, "legend": null}
         }},
        {"transform": [{"filter": "datum.s == 'SID3EICMI' && datum.g > 1"}], "mark": {"type": "point", "shape": "triangle-right", "filled": true, "color": "#3fbf3f", "size": 110, "opacity": 1}},
        {"transform": [{"filter": "datum.s == 'BPD3RAA' && datum.g > 1"}], "mark": {"type": "point", "shape": "diamond", "filled": true, "color": "#1f1f8f", "size": 170, "opacity": 1}},
        {"transform": [{"filter": "datum.s == 'BPD3EICMI' && datum.g > 1"}], "mark": {"type": "point", "shape": "circle", "filled": true, "color": "#7a42b0", "size": 180, "opacity": 1}},
        {"transform": [{"filter": "false"}],
         "mark": {"type": "point", "filled": true, "opacity": 1, "size": 324, "strokeWidth": 2.5},
         "encoding": {
           "stroke": {"field": "s", "type": "nominal", "title": null, "scale": {"domain": ["SID3RAA","SID3EIC","SID3EICMI","BPD3RAA","BPD3EIC","BPD3EICMI"], "range": ["#c0282d","#141414","#3fbf3f","#1f1f8f","#e6a050","#7a3fae"]}, "legend": {"legendX": -44, "legendY": 437}},
           "fill": {"field": "s", "type": "nominal", "title": null, "scale": {"domain": ["SID3RAA","SID3EIC","SID3EICMI","BPD3RAA","BPD3EIC","BPD3EICMI"], "range": ["#c0282d","#141414","#3fbf3f","#1f1f8f","#e6a050","#7a3fae"]}},
           "shape": {"field": "s", "type": "nominal", "title": null, "scale": {"domain": ["SID3RAA","SID3EIC","SID3EICMI","BPD3RAA","BPD3EIC","BPD3EICMI"], "range": ["M-1,0L4.78,0","M-1,0L4.78,0","M-1,0L3.6,0M3.55,-0.67L4.78,0L3.55,0.67Z","M-1,0L3.6,0M3.44,0L4.11,-0.67L4.78,0L4.11,0.67Z","M-1,0L4.78,0","M-1,0L3.4,0M3.34,0A0.72,0.72 0 1,1 4.78,0A0.72,0.72 0 1,1 3.34,0Z"]}},
           "strokeDash": {"field": "s", "type": "nominal", "title": null, "scale": {"domain": ["SID3RAA","SID3EIC","SID3EICMI","BPD3RAA","BPD3EIC","BPD3EICMI"], "range": [[1,0],[2,3],[7,4],[2,3],[8,4],[1,0]]}}
         }}
      ],
      "resolve": {"scale": {"stroke": "independent", "strokeDash": "independent", "fill": "independent", "shape": "independent"}}
    },
    {
      "width": 436, "height": 332,
      "title": {"text": "Gráfico (4d)", "dx": -22, "dy": 10.5},
      "transform": [{"filter": "datum.p == '4d'"}],
      "encoding": {
        "x": {"field": "g", "type": "quantitative", "title": "Geração", "scale": {"domain": [0.5, 20.5], "nice": false, "zero": false}, "axis": {"values": [1,2,3,4,5,6,7,8,9,10,11,12,13,14,15,16,17,18,19,20]}},
        "y": {"field": "v", "type": "quantitative", "title": "Endogamia média", "scale": {"domain": [0, 0.376], "nice": false}, "axis": {"values": [0,0.05,0.1,0.15,0.2,0.25,0.3,0.35], "titlePadding": 3, "labelPadding": 6}}
      },
      "layer": [
        {"mark": {"type": "line", "strokeWidth": 2.5},
         "encoding": {
           "stroke": {"field": "s", "type": "nominal", "scale": {"domain": ["SID4RAA","SID4EIC","SID4EICMI","BPD4RAA","BPD4EIC","BPD4EICMI"], "range": ["#c0282d","#141414","#3fbf3f","#1f1f8f","#e6a050","#7a3fae"]}, "legend": null},
           "strokeDash": {"field": "s", "type": "nominal", "scale": {"domain": ["SID4RAA","SID4EIC","SID4EICMI","BPD4RAA","BPD4EIC","BPD4EICMI"], "range": [[1,0],[2,3],[7,4],[2,3],[8,4],[1,0]]}, "legend": null}
         }},
        {"transform": [{"filter": "datum.s == 'SID4EICMI' && datum.g > 1"}], "mark": {"type": "point", "shape": "triangle-right", "filled": true, "color": "#3fbf3f", "size": 110, "opacity": 1}},
        {"transform": [{"filter": "datum.s == 'BPD4RAA' && datum.g > 1"}], "mark": {"type": "point", "shape": "diamond", "filled": true, "color": "#1f1f8f", "size": 170, "opacity": 1}},
        {"transform": [{"filter": "datum.s == 'BPD4EICMI' && datum.g > 1"}], "mark": {"type": "point", "shape": "circle", "filled": true, "color": "#7a42b0", "size": 180, "opacity": 1}},
        {"transform": [{"filter": "false"}],
         "mark": {"type": "point", "filled": true, "opacity": 1, "size": 324, "strokeWidth": 2.5},
         "encoding": {
           "stroke": {"field": "s", "type": "nominal", "title": null, "scale": {"domain": ["SID4RAA","SID4EIC","SID4EICMI","BPD4RAA","BPD4EIC","BPD4EICMI"], "range": ["#c0282d","#141414","#3fbf3f","#1f1f8f","#e6a050","#7a3fae"]}, "legend": {"legendX": -43, "legendY": 435}},
           "fill": {"field": "s", "type": "nominal", "title": null, "scale": {"domain": ["SID4RAA","SID4EIC","SID4EICMI","BPD4RAA","BPD4EIC","BPD4EICMI"], "range": ["#c0282d","#141414","#3fbf3f","#1f1f8f","#e6a050","#7a3fae"]}},
           "shape": {"field": "s", "type": "nominal", "title": null, "scale": {"domain": ["SID4RAA","SID4EIC","SID4EICMI","BPD4RAA","BPD4EIC","BPD4EICMI"], "range": ["M-1,0L4.78,0","M-1,0L4.78,0","M-1,0L3.6,0M3.55,-0.67L4.78,0L3.55,0.67Z","M-1,0L3.6,0M3.44,0L4.11,-0.67L4.78,0L4.11,0.67Z","M-1,0L4.78,0","M-1,0L3.4,0M3.34,0A0.72,0.72 0 1,1 4.78,0A0.72,0.72 0 1,1 3.34,0Z"]}},
           "strokeDash": {"field": "s", "type": "nominal", "title": null, "scale": {"domain": ["SID4RAA","SID4EIC","SID4EICMI","BPD4RAA","BPD4EIC","BPD4EICMI"], "range": [[1,0],[2,3],[7,4],[2,3],[8,4],[1,0]]}}
         }}
      ],
      "resolve": {"scale": {"stroke": "independent", "strokeDash": "independent", "fill": "independent", "shape": "independent"}}
    }
  ]
}
